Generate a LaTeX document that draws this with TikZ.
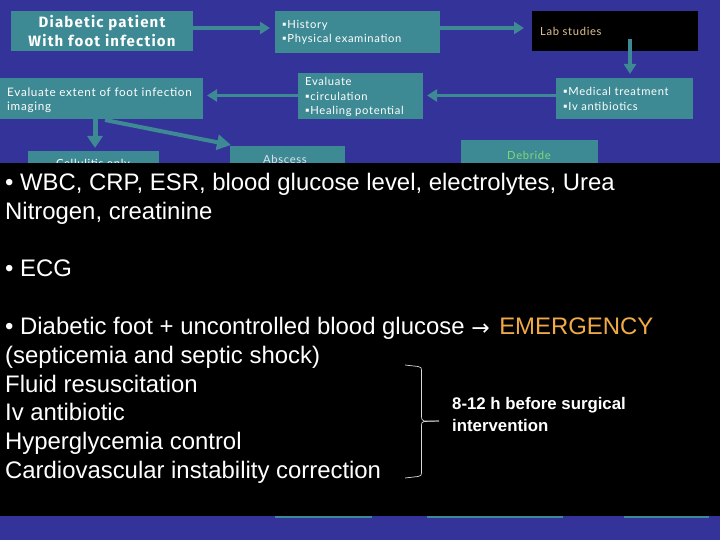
\documentclass[tikz,border=0pt]{standalone}
\usepackage{fontspec}
\setmainfont{Liberation Sans}
\newfontfamily\boxfont[LetterSpace=6]{Lato}
\newfontfamily\headfont[LetterSpace=8]{Fira Sans}
\usetikzlibrary{arrows.meta}
\definecolor{bgblue}{RGB}{51,51,153}
\definecolor{boxteal}{RGB}{62,138,148}
\definecolor{flowtip}{RGB}{62,138,148}
\definecolor{labtan}{RGB}{225,195,150}
\definecolor{debgreen}{RGB}{130,215,120}
\definecolor{emerg}{RGB}{240,170,70}
\tikzset{
  flowbox/.style={fill=boxteal,draw=none,inner sep=0pt,rectangle},
  boxtext/.style={text=white,font=\boxfont\fontsize{11.2}{14.5}\selectfont,align=left,anchor=west,inner sep=0pt},
  flow/.style={draw=flowtip,line width=3.5pt,-{Triangle[length=10pt,width=12pt]}},
  panelline/.style={text=white,font=\fontsize{23.9}{28.8}\selectfont,align=left,anchor=north west,inner sep=0pt},
  brace/.style={draw=white!85!black,line width=0.7pt}
}
\begin{document}
\begin{tikzpicture}[x=1pt,y=-1pt]
\useasboundingbox (0,0) rectangle (720,540);
\fill[bgblue] (0,0) rectangle (720,540);
% boxes
\node[flowbox,minimum width=182pt,minimum height=40pt] (diab) at (102,31) {};
\node[flowbox,minimum width=165pt,minimum height=42pt] (hist) at (357.5,32) {};
\node[flowbox,fill=black,minimum width=166pt,minimum height=40pt] (lab) at (615,31) {};
\node[flowbox,minimum width=203pt,minimum height=41pt] (ext) at (101.5,98.5) {};
\node[flowbox,minimum width=125pt,minimum height=46pt] (circ) at (360.5,96) {};
\node[flowbox,minimum width=137pt,minimum height=41pt] (med) at (624.5,98.5) {};
\node[flowbox,minimum width=131pt,minimum height=30pt] (cell) at (93.5,166) {};
\node[flowbox,minimum width=115pt,minimum height=36pt] (absc) at (287.5,164) {};
\node[flowbox,minimum width=137pt,minimum height=40pt] (debr) at (529.5,160) {};
% connectors
\coordinate (labdrop) at (630,39);
\coordinate (extdrop) at (95,119);
\coordinate (extslant) at (105,120);
\coordinate (a1e) at (270,28);
\coordinate (a2e) at (524,28);
\coordinate (a1s) at (193,28);
\coordinate (a2s) at (440,28);
\coordinate (a4s) at (556,95.5);
\coordinate (a4e) at (427,95.5);
\coordinate (a5s) at (298,95.5);
\coordinate (a5e) at (207,95.5);
\draw[flow] (a1s) -- (a1e);
\draw[flow] (a2s) -- (a2e);
\draw[flow] (labdrop) -- (630,74);
\draw[flow] (a4s) -- (a4e);
\draw[flow] (a5s) -- (a5e);
\draw[flow,line width=5pt,-{Triangle[length=12pt,width=15pt]}] (extdrop) -- (95,148);
\draw[flow,line width=4pt,-{Triangle[length=14pt,width=15pt]}] (extslant) -- (231,145);
% box texts
\node[text=white,font=\headfont\bfseries\fontsize{15}{19}\selectfont,align=center,inner sep=0pt] (diabt) at (102,31) {Diabetic patient\\With foot infection};
\node[boxtext] (histt) at (282,32.5) {▪History\\▪Physical examination};
\node[boxtext,text=labtan] (labt) at (540,31) {Lab studies};
\node[boxtext,font=\boxfont\fontsize{11.7}{14.5}\selectfont] (extt) at (7,100.5) {Evaluate extent of foot infection\\imaging};
\node[boxtext] (circt) at (305,97) {Evaluate\\▪circulation\\▪Healing potential};
\node[boxtext] (medt) at (563,99) {▪Medical treatment\\▪Iv antibiotics};
\node[boxtext,anchor=center] (cellt) at (93,164) {Cellulitis only};
\node[boxtext,anchor=center,text=white!85!bgblue] (absct) at (285,159) {Abscess};
\node[boxtext,anchor=center,text=debgreen] (debrt) at (529,155) {Debride};
% slivers of what lies under the panel
\fill[boxteal] (275,516) rectangle (372,518);
\fill[boxteal] (427,516) rectangle (563,518);
\fill[boxteal] (624,516) rectangle (709,518);
% panel
\fill[black] (0,163) rectangle (720,516);
\node[panelline] (p1) at (5,173) {• WBC, CRP, ESR, blood glucose level, electrolytes, Urea\\Nitrogen, creatinine};
\node[panelline] (p2) at (5,260) {• ECG};
\node[panelline] (p3) at (5,317) {• Diabetic foot + uncontrolled blood glucose \rlap{\fontspec{DejaVu Sans}\fontsize{22}{22}\selectfont\raisebox{-1pt}{→}}\hspace{28pt}\textcolor{emerg}{EMERGENCY}\\(septicemia and septic shock)\\Fluid resuscitation\\Iv antibiotic\\Hyperglycemia control\\Cardiovascular instability correction};
\node[text=white,font=\bfseries\fontsize{16.8}{22}\selectfont,align=left,anchor=north west,inner sep=0pt] (dur) at (452,397) {8-12 h before surgical\\intervention};
% brace
\coordinate (bt) at (405,365);
\coordinate (bb) at (405,478);
\coordinate (bm) at (439,421);
\draw[brace] (bt) -- (418,366.5) .. controls (421,367) and (421.5,368) .. (421.5,370) -- (421.5,417) .. controls (421.5,419) and (422,420) .. (424,421) -- (bm);
\draw[brace] (bm) -- (424,421.5) .. controls (422,422) and (421.5,423) .. (421.5,425) -- (421.5,473) .. controls (421.5,475) and (421,476) .. (418,476.5) -- (bb);
\end{tikzpicture}
\end{document}
